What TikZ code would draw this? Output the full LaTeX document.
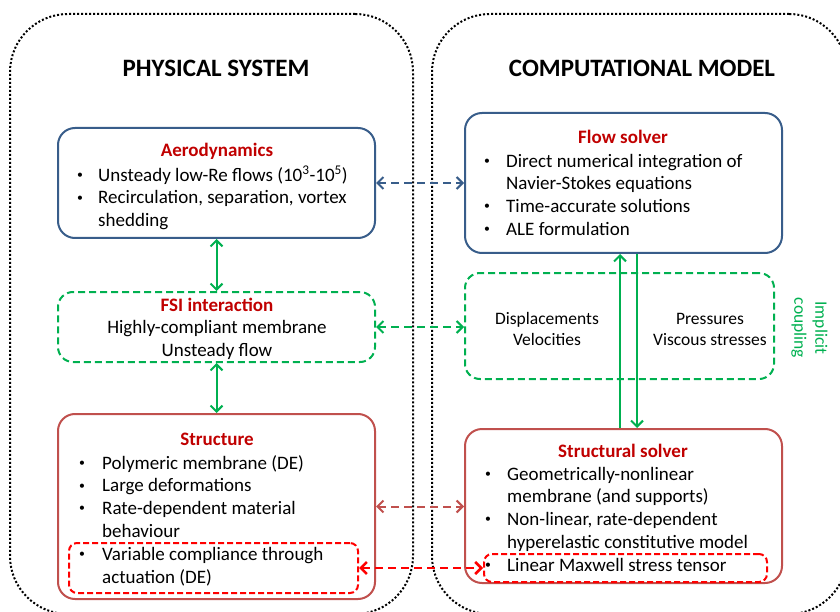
\documentclass[tikz,border=0pt]{standalone}
\usepackage{fontspec}
\setmainfont{Carlito}
\usetikzlibrary{arrows.meta,calc}
\definecolor{boxblue}{HTML}{385D8A}
\definecolor{boxred}{HTML}{C0504D}
\definecolor{titlered}{HTML}{C00000}
\definecolor{fsigreen}{HTML}{00B050}
\definecolor{hotred}{HTML}{FF0000}
\newcommand{\bitem}[1]{\makebox[#1][l]{\hspace*{1pt}\raisebox{2.8pt}{\scalebox{0.62}{\textbullet}}}}
\tikzset{
  panel/.style={draw=black, line width=2pt, dash pattern=on 2pt off 2pt, rounded corners=58pt, inner sep=0pt},
  box/.style={draw=#1, line width=2pt, rounded corners=17pt, inner sep=0pt},
  dbox/.style={draw=#1, line width=2pt, dash pattern=on 7pt off 4pt, rounded corners=15pt, inner sep=0pt},
  rbox/.style={draw=hotred, line width=2pt, dash pattern=on 6pt off 3pt, rounded corners=8pt, inner sep=0pt},
  body/.style={font=\fontsize{19}{22.8}\selectfont, inner sep=0pt, align=left, anchor=north west},
  cbody/.style={font=\fontsize{19}{22.4}\selectfont, inner sep=0pt, align=center, anchor=north},
  sbody/.style={font=\fontsize{17.5}{21}\selectfont, inner sep=0pt, align=center, anchor=north},
  head/.style={font=\fontsize{19}{22.8}\selectfont\bfseries, text=titlered, inner sep=0pt, anchor=base},
  bigtitle/.style={font=\fontsize{25}{29}\selectfont\bfseries, inner sep=0pt, anchor=base},
  tip/.tip={Straight Barb[length=6pt,width=12pt]},
  link/.style={line width=2pt, tip-tip},
  onelink/.style={line width=2pt, -tip},
  dashlink/.style={line width=2pt, tip-tip, dash pattern=on 8pt off 5pt},
}
\begin{document}
\begin{tikzpicture}[x=1pt,y=-1pt]
\useasboundingbox (0,0) rectangle (840,612);
\clip (0,0) rectangle (840,612);

% panels
\node[panel, minimum width=403pt, minimum height=600pt] (physpanel) at (211.5,314) {};
\node[panel, minimum width=415pt, minimum height=600pt] (comppanel) at (639.5,314) {};
\node[bigtitle] (phystitle) at (216,77) {PHYSICAL SYSTEM};
\node[bigtitle] (comptitle) at (642,77) {COMPUTATIONAL MODEL};

% boxes
\node[box=boxblue, minimum width=317pt, minimum height=110pt] (aero) at (216.5,183) {};
\node[box=boxblue, minimum width=317pt, minimum height=140pt] (flow) at (623.5,183) {};
\node[dbox=fsigreen, minimum width=317pt, minimum height=70pt] (fsi) at (216.5,327) {};
\node[dbox=fsigreen, minimum width=309pt, minimum height=106pt] (disp) at (619.5,326) {};
\node[box=boxred, minimum width=317pt, minimum height=185pt] (struct) at (216.5,506.5) {};
\node[box=boxred, minimum width=317pt, minimum height=154pt] (ssolver) at (623.5,506) {};
\node[rbox, minimum width=289pt, minimum height=50pt] (actL) at (213.5,568) {};
\node[rbox, minimum width=283pt, minimum height=28pt] (actR) at (625.5,568) {};

% texts
\node[head] (aerohead) at (217,157) {Aerodynamics};
\node[body] (aerotext) at (76,165) {\strut\bitem{22pt}Unsteady low-Re flows (10\textsuperscript{3}-10\textsuperscript{5})\\
\strut\bitem{22pt}Recirculation, separation, vortex\\
\strut\hspace*{22pt}shedding};

\node[head] (flowhead) at (623,144) {Flow solver};
\node[body] (flowtext) at (483,151) {\strut\bitem{23pt}Direct numerical integration of\\
\strut\hspace*{23pt}Navier-Stokes equations\\
\strut\bitem{23pt}Time-accurate solutions\\
\strut\bitem{23pt}ALE formulation};

\node[head] (fsihead) at (217,311) {FSI interaction};
\node[cbody] (fsitext) at (217,318) {\strut Highly-compliant membrane\\ \strut Unsteady flow};

\node[sbody] (disptext) at (547,310) {\strut Displacements\\ \strut Velocities};
\node[sbody] (prestext) at (710,310) {\strut Pressures\\ \strut Viscous stresses};
\node[font=\fontsize{17.5}{21}\selectfont, text=fsigreen, align=center, inner sep=0pt, rotate=-90] (implicit) at (809.5,328) {Implicit\\coupling};

\node[head] (structhead) at (217,445) {Structure};
\node[body] (structtext) at (78,453) {\strut\bitem{24pt}Polymeric membrane (DE)\\
\strut\bitem{24pt}Large deformations\\
\strut\bitem{24pt}Rate-dependent material\\
\strut\hspace*{24pt}behaviour\\
\strut\bitem{24pt}Variable compliance through\\
\strut\hspace*{24pt}actuation (DE)};

\node[head] (ssolverhead) at (623,457) {Structural solver};
\node[body] (ssolvertext) at (484,464) {\strut\bitem{23pt}Geometrically-nonlinear\\
\strut\hspace*{23pt}membrane (and supports)\\
\strut\bitem{23pt}Non-linear, rate-dependent\\
\strut\hspace*{23pt}hyperelastic constitutive model\\
\strut\bitem{23pt}Linear Maxwell stress tensor};

% connectors
\draw[dashlink, draw=boxblue] (aero.east) -- (aero.east -| flow.west);
\draw[link, draw=fsigreen] (aero.south) -- (fsi.north);
\draw[link, draw=fsigreen] (fsi.south) -- (struct.north);
\draw[dashlink, draw=fsigreen] (fsi.east) -- (fsi.east -| disp.west);
\draw[onelink, draw=fsigreen] ([xshift=-3.5pt]ssolver.north) -- ([xshift=-3.5pt]flow.south);
\draw[onelink, draw=fsigreen] ([xshift=13.5pt]flow.south) -- ([xshift=13.5pt]ssolver.north);
\draw[dashlink, draw=boxred] (struct.east) -- (struct.east -| ssolver.west);
\draw[dashlink, draw=hotred, line width=2.5pt] (actL.east) -- (actR.west);
\end{tikzpicture}
\end{document}
